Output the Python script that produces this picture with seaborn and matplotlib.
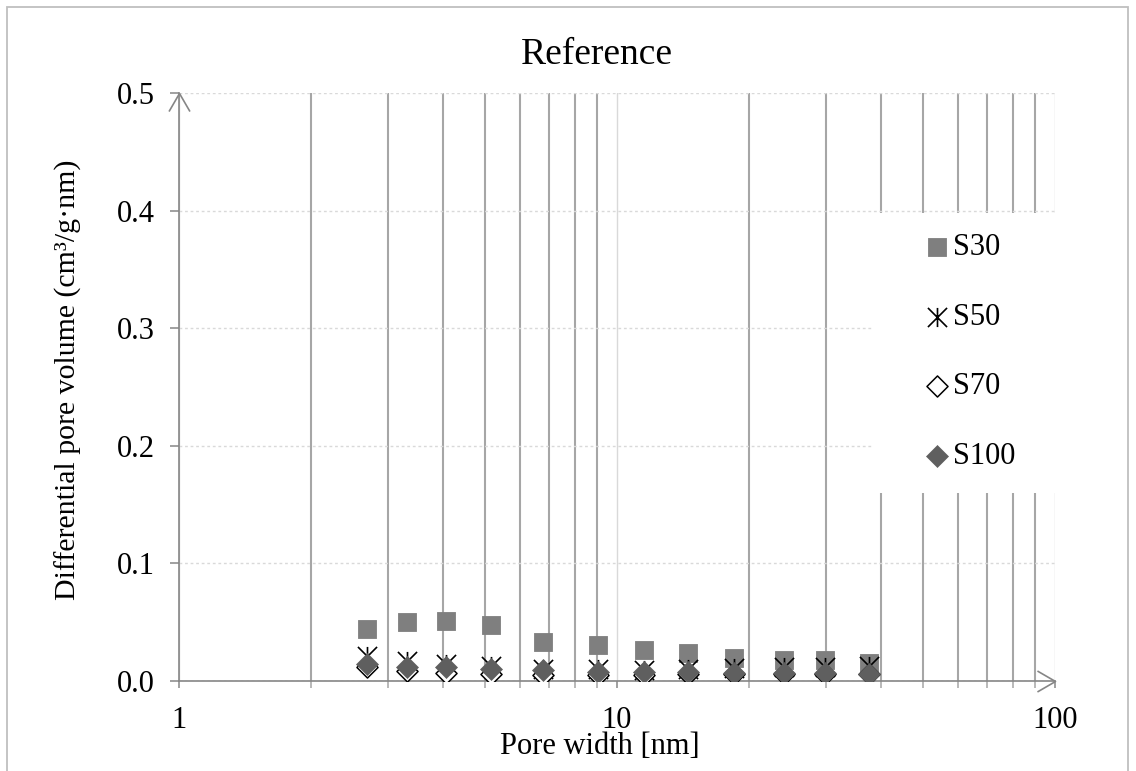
import matplotlib
matplotlib.use('Agg')
import matplotlib.pyplot as plt
import seaborn as sns
import numpy as np
from matplotlib.path import Path
from matplotlib.patches import Rectangle
from matplotlib.ticker import FixedLocator, NullFormatter, FuncFormatter

# Data
pore_width = [2.69, 3.31, 4.08, 5.16, 6.79, 9.06, 11.5, 14.5, 18.5, 24.0, 29.9, 37.6]
s30 = [0.0438, 0.0503, 0.0511, 0.0478, 0.0328, 0.0304, 0.0265, 0.0237, 0.0195, 0.0180, 0.0178, 0.0150]
s50 = [0.0210, 0.0170, 0.0145, 0.0125, 0.0105, 0.0100, 0.0095, 0.0100, 0.0110, 0.0115, 0.0120, 0.0125]
s70 = [0.0120, 0.0085, 0.0070, 0.0057, 0.0048, 0.0048, 0.0055, 0.0057, 0.0060, 0.0063, 0.0063, 0.0060]
s100 = [0.0142, 0.0120, 0.0118, 0.0105, 0.0091, 0.0080, 0.0077, 0.0075, 0.0068, 0.0068, 0.0064, 0.0063]

x_major = [1, 10, 100]
x_minor = [2, 3, 4, 5, 6, 7, 8, 9, 20, 30, 40, 50, 60, 70, 80, 90]
y_ticks = [0.0, 0.1, 0.2, 0.3, 0.4, 0.5]

# Style
sns.set_theme(style='white')
plt.rcParams['font.family'] = ['Liberation Serif', 'DejaVu Serif']
plt.rcParams['text.color'] = 'black'
plt.rcParams['axes.labelcolor'] = 'black'

W, H = 1136, 771
fig = plt.figure(figsize=(W / 100, H / 100), dpi=100)
ax = fig.add_axes([179 / W, 1 - 681 / H, 876 / W, 588 / H])

axis_gray = '#868686'

# Series
sns.scatterplot(x=pore_width, y=s30, marker='s', s=150, color='#7f7f7f',
                edgecolor='#7f7f7f', linewidth=0.6, label='S30', ax=ax, zorder=3)

asterisk = Path([(-1, -1), (1, 1), (-1, 1), (1, -1), (0, -1), (0, 1)],
                [Path.MOVETO, Path.LINETO, Path.MOVETO, Path.LINETO, Path.MOVETO, Path.LINETO])
sns.scatterplot(x=pore_width, y=s50, marker=asterisk, s=190, color='black',
                edgecolor='black', linewidth=1.2, label='S50', ax=ax, zorder=4)

sns.scatterplot(x=pore_width, y=s70, marker='D', s=115, color='white',
                edgecolor='black', linewidth=1.1, label='S70', ax=ax, zorder=5)

sns.scatterplot(x=pore_width, y=s100, marker='D', s=125, color='#5f5f5f',
                edgecolor='#5f5f5f', linewidth=0.5, label='S100', ax=ax, zorder=6)

# Axes
ax.set_xscale('log')
ax.set_xlim(1, 100)
ax.set_ylim(0, 0.5)
ax.xaxis.set_major_locator(FixedLocator(x_major))
ax.xaxis.set_major_formatter(FuncFormatter(lambda v, _: f'{v:g}'))
ax.xaxis.set_minor_locator(FixedLocator(x_minor))
ax.xaxis.set_minor_formatter(NullFormatter())
ax.yaxis.set_major_locator(FixedLocator(y_ticks))
ax.yaxis.set_major_formatter(FuncFormatter(lambda v, _: f'{v:.1f}'))
ax.yaxis.set_minor_locator(FixedLocator([]))

ax.set_axisbelow(True)
ax.grid(which='minor', axis='x', color='#a6a6a6', lw=1.5)
ax.grid(which='major', axis='x', color='#d9d9d9', lw=1.0)
ax.grid(which='major', axis='y', color='#d9d9d9', lw=1.0, ls=(0, (2, 2)))

for side in ['top', 'right']:
    ax.spines[side].set_visible(False)
for side in ['left', 'bottom']:
    ax.spines[side].set_color(axis_gray)
    ax.spines[side].set_linewidth(1.2)

ax.tick_params(axis='x', which='major', direction='out', length=5, width=1.1,
               color=axis_gray, labelsize=22, pad=13, bottom=True, labelcolor='black')
ax.tick_params(axis='x', which='minor', direction='out', length=5, width=1.1,
               color='#a6a6a6', bottom=True)
ax.tick_params(axis='y', which='major', direction='out', length=6.5, width=1.1,
               color=axis_gray, labelsize=22, pad=11, left=True, labelcolor='black')

# Arrow heads at the axis ends
up_head = Path([(-0.58, -1), (0, 0), (0.58, -1)], [Path.MOVETO, Path.LINETO, Path.LINETO])
right_head = Path([(-1, -0.58), (0, 0), (-1, 0.58)], [Path.MOVETO, Path.LINETO, Path.LINETO])
ax.plot([0], [1], transform=ax.transAxes, marker=up_head, ms=26, mfc='none',
        mec=axis_gray, mew=1.2, clip_on=False, zorder=7)
ax.plot([1], [0], transform=ax.transAxes, marker=right_head, ms=26, mfc='none',
        mec=axis_gray, mew=1.2, clip_on=False, zorder=7)

# White legend area covering gridlines
ax.add_patch(Rectangle(((872 - 179) / 876, (681 - 493) / 588), 0.215, (493 - 213) / 588,
                       transform=ax.transAxes, facecolor='white', edgecolor='none',
                       zorder=2, clip_on=False))

ax.legend(loc='upper left', bbox_to_anchor=(925 / W, 1 - 233 / H), bbox_transform=fig.transFigure,
          frameon=False, fontsize=22, handlelength=0.8, handletextpad=0.1,
          labelspacing=1.33, borderpad=0, borderaxespad=0, scatterpoints=1)

# Texts
fig.text(597 / W, 1 - 55 / H, 'Reference', ha='center', va='center', fontsize=27, color='black')
fig.text(600 / W, 1 - 747 / H, 'Pore width [nm]', ha='center', va='center', fontsize=22, color='black')
fig.text(68 / W, 1 - 380 / H, 'Differential pore volume (cm³/g·nm)', ha='center', va='center',
         rotation=90, fontsize=21.5, color='black')

# Outer chart border
fig.patches.append(Rectangle((7 / W, -0.05), (1128 - 7) / W, 1 - 7 / H + 0.05,
                             transform=fig.transFigure, fill=False, edgecolor='#bfbfbf', lw=1.3))

fig.savefig('out.png', dpi=100)
